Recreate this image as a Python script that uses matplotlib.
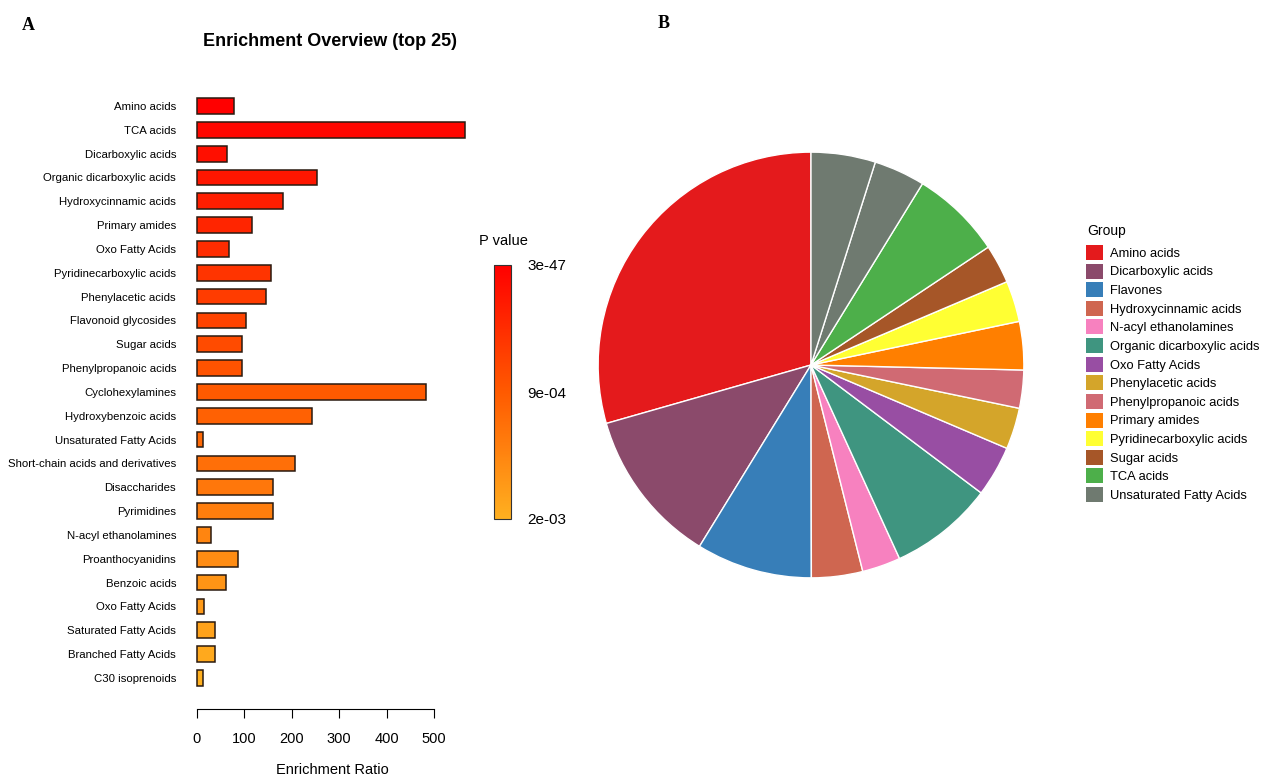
import numpy as np
import matplotlib.pyplot as plt
from matplotlib.colors import LinearSegmentedColormap, Normalize
from matplotlib.cm import ScalarMappable
from matplotlib.patches import Patch

plt.rcParams['font.family'] = ['Liberation Sans', 'DejaVu Sans']

# Enrichment overview (top 25), ordered by p value
sets = ['Amino acids', 'TCA acids', 'Dicarboxylic acids', 'Organic dicarboxylic acids',
        'Hydroxycinnamic acids', 'Primary amides', 'Oxo Fatty Acids', 'Pyridinecarboxylic acids',
        'Phenylacetic acids', 'Flavonoid glycosides', 'Sugar acids', 'Phenylpropanoic acids',
        'Cyclohexylamines', 'Hydroxybenzoic acids', 'Unsaturated Fatty Acids',
        'Short-chain acids and derivatives', 'Disaccharides', 'Pyrimidines',
        'N-acyl ethanolamines', 'Proanthocyanidins', 'Benzoic acids', 'Oxo Fatty Acids',
        'Saturated Fatty Acids', 'Branched Fatty Acids', 'C30 isoprenoids']
ratio = [79, 565, 63, 253, 181, 116, 68, 156, 145, 104, 95, 95, 483, 242, 14,
         207, 161, 161, 30, 86, 61, 15, 39, 39, 13]
pval_ticks = ['2e-03', '9e-04', '3e-47']

# Pie chart groups (share of compounds)
groups = ['Amino acids', 'Dicarboxylic acids', 'Flavones', 'Hydroxycinnamic acids',
          'N-acyl ethanolamines', 'Organic dicarboxylic acids', 'Oxo Fatty Acids',
          'Phenylacetic acids', 'Phenylpropanoic acids', 'Primary amides',
          'Pyridinecarboxylic acids', 'Sugar acids', 'TCA acids', 'Unsaturated Fatty Acids']
group_colors = ['#E41A1C', '#8B4A6B', '#377EB8', '#CF6650', '#F781BF', '#3F9580',
                '#984EA3', '#D4A52A', '#D06A73', '#FF7F00', '#FFFF33', '#A65628',
                '#4DAF4A', '#6F7A70']
slice_groups = groups + ['Unsaturated Fatty Acids']
slice_sizes = [106, 42.5, 31.7, 14, 10.5, 28.5, 13.9, 11.3, 10.4, 13.2, 11.2, 10.6,
               24.8, 14, 17.6]

W, H = 1262, 778
fig = plt.figure(figsize=(W / 100, H / 100), dpi=100)

def px_axes(x0, y0, x1, y1):
    return fig.add_axes([x0 / W, 1 - y1 / H, (x1 - x0) / W, (y1 - y0) / H])

# ---- panel A: bar chart ----
cmap = LinearSegmentedColormap.from_list('pv', ['#FFB020', '#FF5A00', '#FF0000'])
n = len(sets)
ax = px_axes(192, 91.7, 192 + 590 * 0.4746, 692.2)
ypos = np.arange(n)[::-1]
colors = [cmap(1 - i / (n - 1)) for i in range(n)]
ax.barh(ypos, ratio, height=0.66, color=colors, edgecolor='#2a1a10', linewidth=1.1)
ax.set_xlim(-10, 580)
ax.set_ylim(-0.6, n - 0.4)
ax.set_yticks(ypos)
ax.set_yticklabels(sets, fontsize=8.2)
ax.tick_params(axis='y', length=0, pad=11.5)
for s in ['top', 'right', 'left']:
    ax.spines[s].set_visible(False)
ax.spines['bottom'].set_position(('outward', 12))
ax.spines['bottom'].set_bounds(0, 500)
ax.set_xticks(np.arange(0, 501, 100))
ax.tick_params(axis='x', labelsize=10.5, length=6.5, pad=10)
ax.set_xlabel('Enrichment Ratio', fontsize=10.5, labelpad=12.5)

fig.text(330 / W, 1 - 42 / H, 'Enrichment Overview (top 25)', ha='center', va='center',
         fontsize=13, fontweight='bold')

# p value colour bar
cax = px_axes(494, 265, 511, 519)
cb = fig.colorbar(ScalarMappable(norm=Normalize(0, 1), cmap=cmap), cax=cax)
cb.set_ticks([0, 0.5, 1])
cb.set_ticklabels(pval_ticks)
cb.ax.tick_params(length=0, labelsize=11, pad=12)
cb.outline.set_edgecolor('#333333')
fig.text(503 / W, 1 - 241 / H, 'P value', ha='center', va='center', fontsize=10.5)

# ---- panel B: pie chart ----
pax = px_axes(811 - 215, 365 - 215, 811 + 215, 365 + 215)
slice_colors = [group_colors[groups.index(g)] for g in slice_groups]
pax.pie(slice_sizes, colors=slice_colors, startangle=90, counterclock=True,
        wedgeprops=dict(edgecolor='white', linewidth=1))
pax.set_xlim(-1.01, 1.01)
pax.set_ylim(-1.01, 1.01)
pax.set_aspect('auto')
pax.axis('off')

handles = [Patch(facecolor=c, edgecolor='none') for c in group_colors]
leg = fig.legend(handles, groups, loc='upper left',
                 bbox_to_anchor=(1086 / W, 1 - 245 / H), frameon=False,
                 fontsize=9.3, handlelength=1.3, handleheight=1.41, labelspacing=0.28,
                 handletextpad=0.55, borderaxespad=0, borderpad=0)
fig.text(1087 / W, 1 - 231 / H, 'Group', ha='left', va='center', fontsize=10)

fig.text(28 / W, 1 - 25 / H, 'A', fontsize=13, fontweight='bold',
         family='Liberation Serif', ha='center', va='center')
fig.text(664 / W, 1 - 24 / H, 'B', fontsize=13, fontweight='bold',
         family='Liberation Serif', ha='center', va='center')

fig.savefig('out.png', dpi=100)
